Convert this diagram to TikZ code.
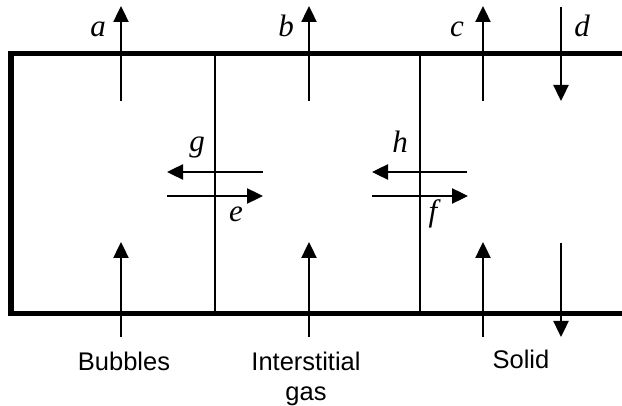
\documentclass[tikz,border=0pt]{standalone}
\usepackage{fontspec}
\setmainfont{Liberation Serif}
\newfontfamily\lsans{Liberation Sans}
\usetikzlibrary{arrows.meta}
\tikzset{
  boxline/.style={line width=5.5pt, line join=miter, line cap=butt},
  divider/.style={line width=2.4pt},
  flow/.style={line width=2.4pt, -{Triangle[length=16pt,width=15pt]}},
  varlabel/.style={anchor=base, inner sep=0pt, font=\fontsize{31}{31}\selectfont\itshape},
  phaselabel/.style={anchor=base, inner sep=0pt, align=center, font=\lsans\fontsize{25.5}{31}\selectfont},
}
\begin{document}
\begin{tikzpicture}[x=1pt,y=-1pt]
\useasboundingbox (0,0) rectangle (622,406);
% box
\coordinate (tr) at (622,53.5);
\coordinate (tl) at (11,53.5);
\coordinate (bl) at (11,313.5);
\coordinate (br) at (622,313.5);
\draw[boxline] (tr) -- (tl) -- (bl) -- (br);
% dividers
\coordinate (d1t) at (215,53.5);
\coordinate (d1b) at (215,313.5);
\coordinate (d2t) at (420,53.5);
\coordinate (d2b) at (420,313.5);
\draw[divider] (d1t) -- (d1b);
\draw[divider] (d2t) -- (d2b);
% top arrows
\coordinate (a0) at (121,101); \coordinate (a1) at (121,6);
\coordinate (b0) at (309,101); \coordinate (b1) at (309,6);
\coordinate (c0) at (483,101); \coordinate (c1) at (483,6);
\coordinate (d0) at (561,7);   \coordinate (d1) at (561,101);
\draw[flow] (a0) -- (a1);
\draw[flow] (b0) -- (b1);
\draw[flow] (c0) -- (c1);
\draw[flow] (d0) -- (d1);
% bottom arrows
\coordinate (p0) at (121,337); \coordinate (p1) at (121,242);
\coordinate (q0) at (309,337); \coordinate (q1) at (309,242);
\coordinate (r0) at (483,337); \coordinate (r1) at (483,242);
\coordinate (s0) at (561,243); \coordinate (s1) at (561,337);
\draw[flow] (p0) -- (p1);
\draw[flow] (q0) -- (q1);
\draw[flow] (r0) -- (r1);
\draw[flow] (s0) -- (s1);
% exchange arrows
\coordinate (g0) at (263,172); \coordinate (g1) at (167,172);
\coordinate (e0) at (167,196); \coordinate (e1) at (263,196);
\coordinate (h0) at (467,172); \coordinate (h1) at (372,172);
\coordinate (f0) at (372,196); \coordinate (f1) at (468,196);
\draw[flow] (g0) -- (g1);
\draw[flow] (e0) -- (e1);
\draw[flow] (h0) -- (h1);
\draw[flow] (f0) -- (f1);
% variable labels
\node[varlabel] (la) at (98,37) {a};
\node[varlabel] (lb) at (286,37) {b};
\node[varlabel] (lc) at (457,37) {c};
\node[varlabel] (ld) at (582,37) {d};
\node[varlabel] (lg) at (197,152) {g};
\node[varlabel] (lh) at (400,153) {h};
\node[varlabel] (le) at (236,222) {e};
\node[varlabel] (lf) at (433,222) {f};
% phase labels
\node[phaselabel] (bub) at (124,371) {Bubbles};
\node[phaselabel] (gas) at (306,401) {Interstitial\\gas};
\node[phaselabel] (sol) at (521,369) {Solid};
\end{tikzpicture}
\end{document}
